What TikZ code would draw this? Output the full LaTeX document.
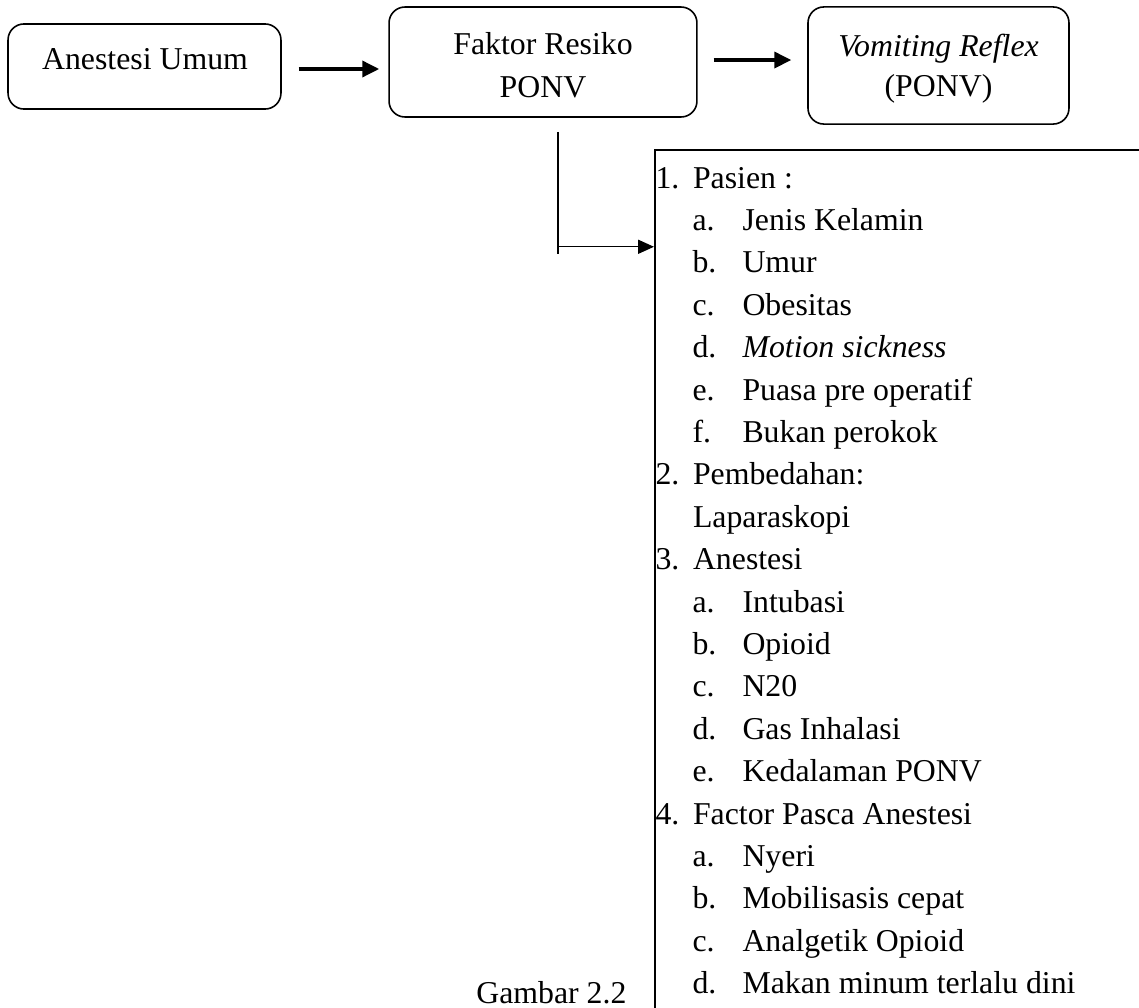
\documentclass[tikz,border=0pt]{standalone}
\usepackage{fontspec}
\setmainfont{Liberation Serif}
\usetikzlibrary{arrows.meta,calc}
\tikzset{
  px/.style={x=0.3774pt,y=-0.3774pt},
  box/.style={draw,rounded corners=6pt,line width=0.6pt,inner sep=0pt},
  txt/.style={font=\fontsize{12}{16}\selectfont,inner sep=0pt,anchor=base},
  item/.style={txt,anchor=base west},
  bigflow/.style={-{Triangle[length=6.4pt,width=6pt]},line width=1.4pt},
  flow/.style={-{Triangle[length=6pt,width=5.3pt]},line width=0.5pt},
  listbox/.style={draw,line width=0.75pt,inner sep=0pt,minimum width=200pt,minimum height=340pt},
}
\begin{document}
\begin{tikzpicture}[px]
  \useasboundingbox (0,0) rectangle (1139,1007);
  \clip (0,0) rectangle (1139,1007);
  % top row
  \node[box,minimum width=103pt,minimum height=32.1pt] (umum) at (144.5,66.5) {};
  \node[box,minimum width=116.2pt,minimum height=41.5pt] (faktor) at (543,62) {};
  \node[box,minimum width=98.5pt,minimum height=44.2pt] (reflex) at (938.5,65.5) {};
  \node[txt] (tumum) at (145,69) {Anestesi Umum};
  \node[txt] (tfaktor1) at (543,54) {Faktor Resiko};
  \node[txt] (tfaktor2) at (543,97) {PONV};
  \node[txt] (treflex1) at (938.5,56) {\textit{Vomiting Reflex}};
  \node[txt] (treflex2) at (938.5,96) {(PONV)};
  \draw[bigflow,shorten <=6.4pt,shorten >=3.4pt] ([yshift=-0.94pt]umum.east) -- ([yshift=-0.94pt]umum.east -| faktor.west);
  \draw[bigflow,shorten <=6pt,shorten >=6pt] ([yshift=0.75pt]faktor.east) -- ([yshift=0.75pt]faktor.east -| reflex.west);
  % factor list
  \node[listbox,anchor=north west] (list) at (654,149) {};
  \coordinate (drop) at ($(faktor.south)+(15,14)$);
  \coordinate (elbow) at ($(drop)+(0,115)$);
  \draw[line width=0.5pt] (drop) -- (elbow) -- ++(0,7);
  \draw[flow] (elbow) -- (elbow -| list.west);
  \foreach \r/\n/\t in {0/1./Pasien :,7/2./Pembedahan:,9/3./Anestesi,15/4./Factor Pasca Anestesi}{
    \node[item] (n\r) at (655,188+42.4*\r) {\n};
    \node[item] (t\r) at (692.5,188+42.4*\r) {\t};
  }
  \node[item] (t8) at (692.5,188+42.4*8) {Laparaskopi};
  \foreach \r/\n/\t in {1/a./Jenis Kelamin,2/b./Umur,3/c./Obesitas,4/d./\textit{Motion sickness},
    5/e./Puasa pre operatif,6/f./Bukan perokok,10/a./Intubasi,11/b./Opioid,12/c./N20,
    13/d./Gas Inhalasi,14/e./Kedalaman PONV,16/a./Nyeri,17/b./Mobilisasis cepat,
    18/c./Analgetik Opioid,19/d./Makan minum terlalu dini}{
    \node[item] (n\r) at (692,188+42.4*\r) {\n};
    \node[item] (t\r) at (742,188+42.4*\r) {\t};
  }
  \node[txt,anchor=base east] (caption) at (627,1003) {Gambar 2.2};
\end{tikzpicture}
\end{document}
